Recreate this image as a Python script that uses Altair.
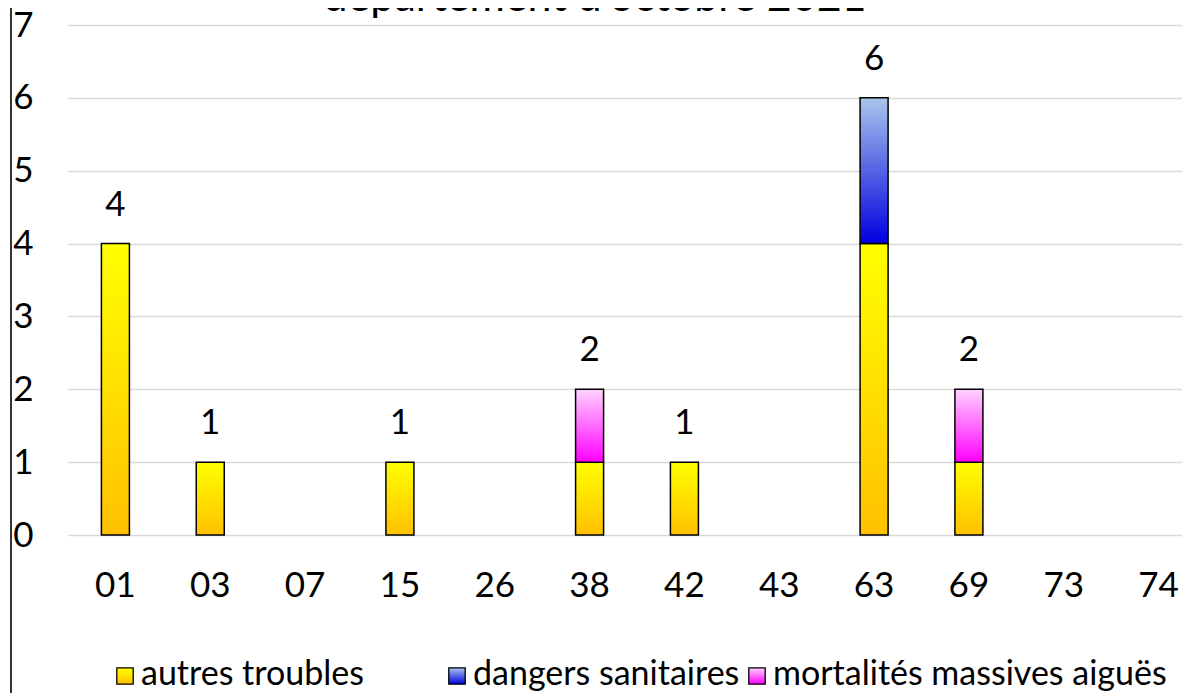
import altair as alt
import pandas as pd

# ---- data ----
departements = ["01", "03", "07", "15", "26", "38", "42", "43", "63", "69", "73", "74"]
series = ["autres troubles", "dangers sanitaires", "mortalités massives aiguës"]
autres_troubles = [4, 1, 0, 1, 0, 1, 1, 0, 4, 1, 0, 0]
dangers_sanitaires = [0, 0, 0, 0, 0, 0, 0, 0, 2, 0, 0, 0]
mortalites_massives = [0, 0, 0, 0, 0, 1, 0, 0, 0, 1, 0, 0]
title_line = "département d'octobre 2021"
y_ticks = [0, 1, 2, 3, 4, 5, 6, 7]

FONT = "Lato"
FS = 35
FS_LEG = 34

rows = []
for si, (name, vals) in enumerate(zip(series, [autres_troubles, dangers_sanitaires, mortalites_massives])):
    for d, v in zip(departements, vals):
        rows.append({"dept": d, "series": name, "value": v, "order": si})
df = pd.DataFrame(rows)


def grad(top, bottom):
    return alt.Gradient(
        gradient="linear",
        stops=[alt.GradientStop(color=top, offset=0), alt.GradientStop(color=bottom, offset=1)],
        x1=0, x2=0, y1=0, y2=1,
    )


fills = {
    "autres troubles": grad("#FFFF00", "#FFC000"),
    "dangers sanitaires": grad("#A9C6EA", "#0000E0"),
    "mortalités massives aiguës": grad("#FFD2FF", "#FF00FF"),
}

W, H = 1114, 510
x_scale = alt.Scale(domain=departements, range=[0, 1138], paddingInner=0, paddingOuter=0)
y_scale = alt.Scale(domain=[0, 7], nice=False)
x_axis = alt.Axis(title=None, domain=False, ticks=False, grid=False, labelAngle=0,
                  labelPadding=50, labelBaseline="middle", labelFont=FONT, labelFontSize=FS,
                  labelColor="#000000")
y_axis = alt.Axis(title=None, domain=False, ticks=False, values=y_ticks, grid=True,
                  gridColor="#D9D9D9", gridWidth=1.6, labelPadding=35, labelFont=FONT,
                  labelFontSize=FS, labelColor="#000000")

layers = []
for s in series:
    layer = (
        alt.Chart(df)
        .transform_stack(stack="value", groupby=["dept"], as_=["y0", "y1"],
                         sort=[alt.SortField("order", order="ascending")])
        .transform_filter((alt.datum.series == s) & (alt.datum.value > 0))
        .mark_bar(fill=fills[s], stroke="#000000", strokeWidth=1.5, size=28)
        .encode(
            x=alt.X("dept:N", scale=x_scale, sort=departements, axis=x_axis),
            y=alt.Y("y1:Q", scale=y_scale, axis=y_axis),
            y2="y0:Q",
        )
    )
    layers.append(layer)

totals = (
    alt.Chart(df)
    .transform_aggregate(total="sum(value)", groupby=["dept"])
    .transform_filter(alt.datum.total > 0)
    .mark_text(dy=-28, baseline="alphabetic", font=FONT, fontSize=FS, color="#000000")
    .encode(
        x=alt.X("dept:N", scale=x_scale, sort=departements, axis=x_axis),
        y=alt.Y("total:Q", scale=y_scale, axis=y_axis),
        text="total:Q",
    )
)
layers.append(totals)

# title fragment (cut at the top of the picture)
title_df = pd.DataFrame({"t": [title_line]})
title_mark = alt.Chart(title_df).mark_text(
    font=FONT, fontSize=43, baseline="alphabetic", align="center", color="#000000"
).encode(x=alt.value(527), y=alt.value(-14), text="t:N")
layers.append(title_mark)

# left frame border of the chart area
border = alt.Chart(title_df).mark_rule(color="#000000", strokeWidth=1.6).encode(
    x=alt.value(-57), y=alt.value(-20), y2=alt.value(680)
)
layers.append(border)

# custom legend with gradient swatches
leg_sq_x = [125, 457, 757]
leg_y = 651
for s, sx in zip(series, leg_sq_x):
    ldf = pd.DataFrame({"label": [s]})
    sq = alt.Chart(ldf).mark_square(fill=fills[s], stroke="#000000", strokeWidth=1.3,
                                    size=270, opacity=1).encode(
        x=alt.value(sx - 68), y=alt.value(leg_y)
    )
    tx = alt.Chart(ldf).mark_text(font=FONT, fontSize=FS_LEG, baseline="middle", align="left",
                                  color="#000000").encode(
        x=alt.value(sx - 68 + 16), y=alt.value(leg_y - 1), text="label:N"
    )
    layers += [sq, tx]

chart = (
    alt.layer(*layers)
    .properties(
        width=W,
        height=H,
        padding={"left": 60, "top": 17, "right": 0, "bottom": 158},
        autosize=alt.AutoSizeParams(type="none"),
        background="#FFFFFF",
    )
    .configure_view(stroke=None)
)

chart.save("out.html", embed_options={"renderer": "svg", "actions": False})
